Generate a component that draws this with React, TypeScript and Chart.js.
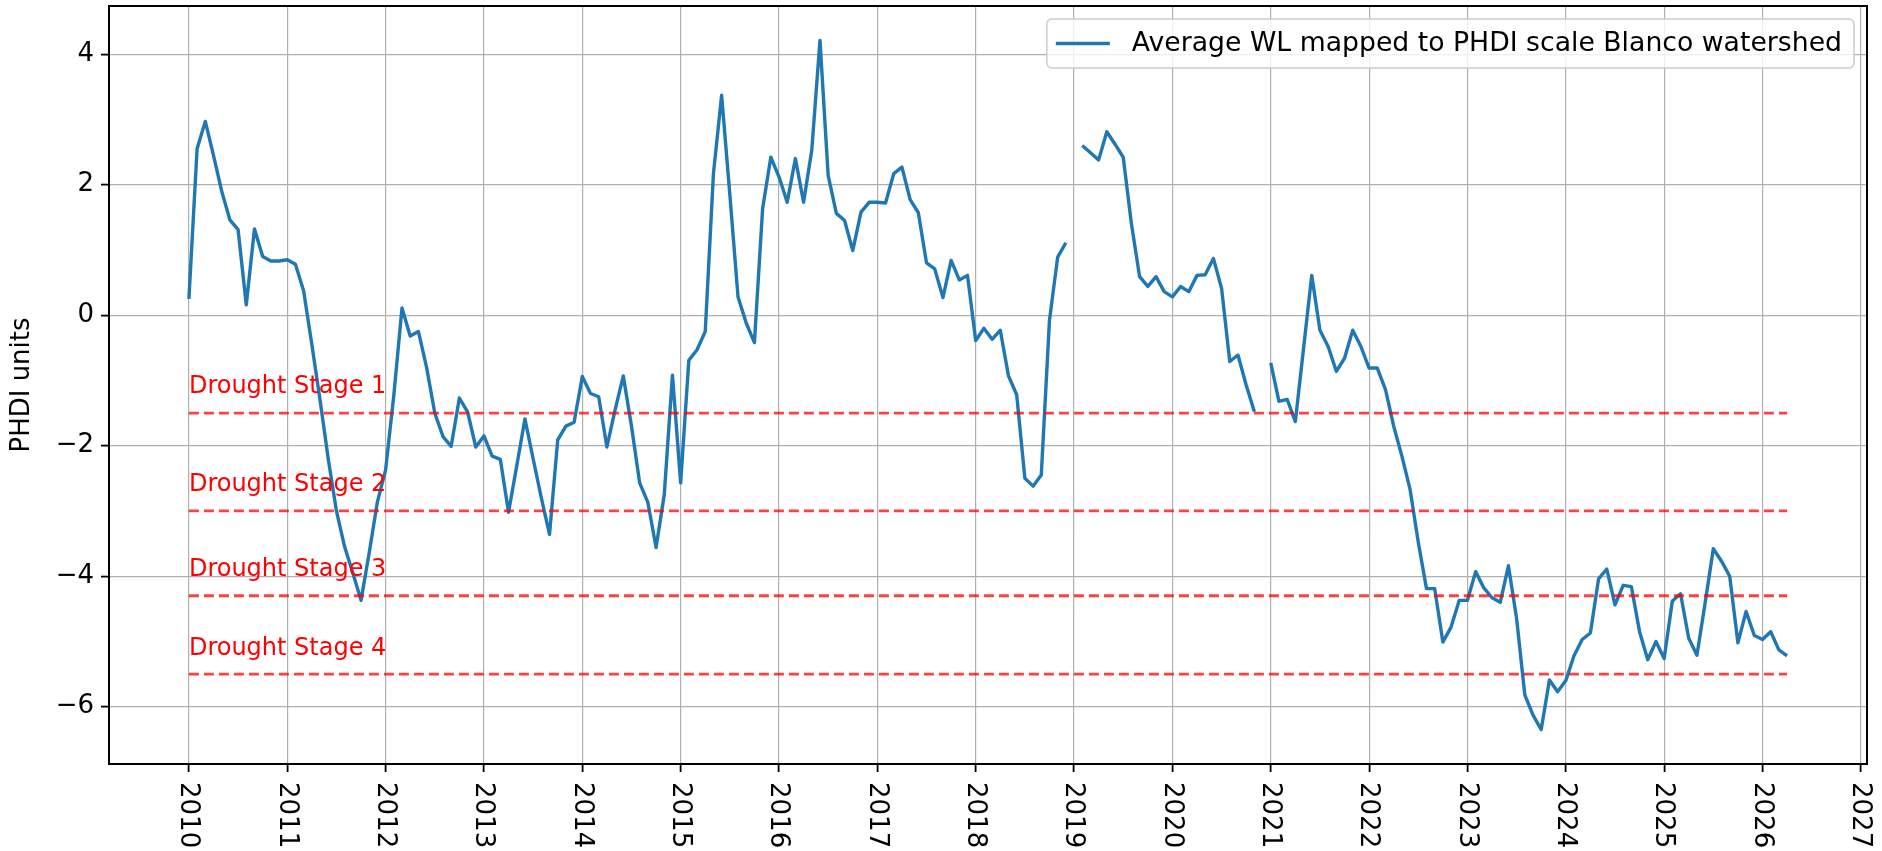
import React, { useEffect, useRef } from 'react';
import { Chart, registerables } from 'chart.js';

Chart.register(...registerables);

// ---- data (monthly values, January..December) ----
const START_YEAR = 2010;
const phdi2010 = [0.25, 2.55, 2.97, 2.45, 1.9, 1.46, 1.31, 0.16, 1.32, 0.9, 0.83, 0.83];
const phdi2011 = [0.85, 0.78, 0.37, -0.45, -1.3, -2.2, -3.0, -3.55, -3.95, -4.37, -3.64, -2.86];
const phdi2012 = [-2.37, -1.23, 0.11, -0.32, -0.25, -0.8, -1.5, -1.86, -2.01, -1.27, -1.48, -2.02];
const phdi2013 = [-1.85, -2.16, -2.21, -3.02, -2.31, -1.59, -2.2, -2.8, -3.36, -1.91, -1.7, -1.64];
const phdi2014 = [-0.94, -1.2, -1.25, -2.02, -1.45, -0.93, -1.7, -2.57, -2.87, -3.56, -2.75, -0.92];
const phdi2015 = [-2.57, -0.69, -0.53, -0.25, 2.17, 3.37, 1.85, 0.28, -0.12, -0.42, 1.63, 2.42];
const phdi2016 = [2.12, 1.73, 2.4, 1.73, 2.53, 4.21, 2.14, 1.56, 1.45, 0.99, 1.58, 1.73];
const phdi2017 = [1.73, 1.72, 2.17, 2.27, 1.77, 1.57, 0.8, 0.71, 0.27, 0.84, 0.54, 0.61];
const phdi2018 = [-0.39, -0.2, -0.37, -0.23, -0.93, -1.22, -2.5, -2.62, -2.45, -0.08, 0.89, 1.11];
const phdi2019 = [null, 2.6, 2.49, 2.38, 2.81, 2.62, 2.42, 1.4, 0.59, 0.44, 0.59, 0.36];
const phdi2020 = [0.28, 0.44, 0.36, 0.61, 0.62, 0.87, 0.41, -0.71, -0.61, -1.07, -1.48, null];
const phdi2021 = [-0.73, -1.32, -1.29, -1.63, -0.51, 0.61, -0.23, -0.48, -0.86, -0.66, -0.23, -0.48];
const phdi2022 = [-0.81, -0.81, -1.14, -1.7, -2.16, -2.67, -3.48, -4.19, -4.19, -5.01, -4.78, -4.37];
const phdi2023 = [-4.37, -3.93, -4.18, -4.33, -4.4, -3.84, -4.65, -5.82, -6.13, -6.35, -5.59, -5.77];
const phdi2024 = [-5.6, -5.22, -4.97, -4.87, -4.04, -3.89, -4.44, -4.14, -4.16, -4.85, -5.28, -5.0];
const phdi2025 = [-5.26, -4.38, -4.27, -4.95, -5.21, -4.41, -3.58, -3.77, -4.0, -5.02, -4.54, -4.91];
const phdi2026 = [-4.97, -4.85, -5.13, -5.22];

const yearlyValues: (number | null)[][] = [
  phdi2010, phdi2011, phdi2012, phdi2013, phdi2014, phdi2015, phdi2016, phdi2017, phdi2018,
  phdi2019, phdi2020, phdi2021, phdi2022, phdi2023, phdi2024, phdi2025, phdi2026,
];

const yearTicks = [2010, 2011, 2012, 2013, 2014, 2015, 2016, 2017, 2018, 2019, 2020, 2021, 2022, 2023, 2024, 2025, 2026, 2027];
const yTicks = [-6, -4, -2, 0, 2, 4];
const droughtLevels = [-1.5, -3, -4.3, -5.5];
const droughtLabels = ['Drought Stage 1', 'Drought Stage 2', 'Drought Stage 3', 'Drought Stage 4'];
const legendLabel = 'Average WL mapped to PHDI scale Blanco watershed';
const yAxisTitle = 'PHDI units';

const FONT = 'DejaVu Sans';
const LINE_BLUE = '#1f77b4';

function fmtTick(v: number): string {
  return v < 0 ? '\u2212' + Math.abs(v) : String(v);
}

export default function App() {
  const canvasRef = useRef<HTMLCanvasElement | null>(null);

  useEffect(() => {
    document.body.style.margin = '0';
    const canvas = canvasRef.current;
    if (!canvas) return;

    const points: { x: number; y: number | null }[] = [];
    yearlyValues.forEach((arr, i) => {
      arr.forEach((v, j) => points.push({ x: START_YEAR + i + j / 12, y: v }));
    });
    const xs = points.map((p) => p.x);
    const ys = points.filter((p) => p.y !== null).map((p) => p.y as number);
    const xMinD = Math.min(...xs), xMaxD = Math.max(...xs);
    const yMinD = Math.min(...ys), yMaxD = Math.max(...ys);
    const xPad = (xMaxD - xMinD) * 0.05;
    const yPad = (yMaxD - yMinD) * 0.05;

    const droughtSets = droughtLevels.map((lvl) => ({
      label: 'd' + lvl,
      data: [{ x: xMinD, y: lvl }, { x: xMaxD, y: lvl }],
      borderColor: 'rgba(255,0,0,0.75)',
      borderWidth: 2.8,
      borderDash: [10, 5],
      pointRadius: 0,
      fill: false,
      order: 0,
    }));

    const customPlugin = {
      id: 'customDecor',
      afterDraw(chart: any) {
        const { ctx, chartArea, scales } = chart;
        const xsc = scales.x, ysc = scales.y;
        ctx.save();
        // top & right spines
        ctx.strokeStyle = '#000';
        ctx.lineWidth = 2;
        ctx.beginPath();
        ctx.moveTo(chartArea.left - 1, chartArea.top);
        ctx.lineTo(chartArea.right, chartArea.top);
        ctx.lineTo(chartArea.right, chartArea.bottom + 1);
        ctx.stroke();

        // x tick labels rotated clockwise
        ctx.fillStyle = '#000';
        ctx.font = `26px "${FONT}"`;
        ctx.textAlign = 'left';
        ctx.textBaseline = 'middle';
        yearTicks.forEach((yr) => {
          const px = xsc.getPixelForValue(yr);
          ctx.save();
          ctx.translate(px, chartArea.bottom + 18);
          ctx.rotate(Math.PI / 2);
          ctx.fillText(String(yr), 0, 1);
          ctx.restore();
        });

        // y axis title
        ctx.save();
        ctx.translate(22, (chartArea.top + chartArea.bottom) / 2);
        ctx.rotate(-Math.PI / 2);
        ctx.textAlign = 'center';
        ctx.textBaseline = 'middle';
        ctx.fillText(yAxisTitle, 0, 0);
        ctx.restore();

        // drought labels
        ctx.fillStyle = 'red';
        ctx.font = `24px "${FONT}"`;
        ctx.textAlign = 'left';
        ctx.textBaseline = 'alphabetic';
        droughtLevels.forEach((lvl, i) => {
          ctx.fillText(droughtLabels[i], xsc.getPixelForValue(xMinD), ysc.getPixelForValue(lvl + 0.3));
        });

        // legend
        ctx.font = `26.7px "${FONT}"`;
        const tw = ctx.measureText(legendLabel).width;
        const pad = 9, handle = 54, gap = 22, padR = 12;
        const right = chartArea.right - 13;
        const top = chartArea.top + 13;
        const h = 49;
        const left = right - (pad + handle + gap + tw + padR);
        ctx.beginPath();
        ctx.roundRect(left, top, right - left, h, 5);
        ctx.fillStyle = 'rgba(255,255,255,0.8)';
        ctx.fill();
        ctx.strokeStyle = '#cccccc';
        ctx.lineWidth = 1.5;
        ctx.stroke();
        const cy = top + h / 2;
        ctx.strokeStyle = LINE_BLUE;
        ctx.lineWidth = 3.4;
        ctx.beginPath();
        ctx.moveTo(left + pad, cy);
        ctx.lineTo(left + pad + handle, cy);
        ctx.stroke();
        ctx.fillStyle = '#000';
        ctx.textBaseline = 'middle';
        ctx.fillText(legendLabel, left + pad + handle + gap, cy + 1);
        ctx.restore();
      },
    };

    const chart = new Chart(canvas, {
      type: 'line',
      data: {
        datasets: [
          ...droughtSets,
          {
            label: legendLabel,
            data: points,
            borderColor: LINE_BLUE,
            borderWidth: 3.4,
            borderJoinStyle: 'round',
            pointRadius: 0,
            spanGaps: false,
            tension: 0,
            fill: false,
            order: 1,
          },
        ] as any,
      },
      options: {
        responsive: false,
        animation: false,
        devicePixelRatio: 1,
        layout: { padding: { left: 0, right: 15, top: 6, bottom: 0 } },
        plugins: { legend: { display: false }, tooltip: { enabled: false } },
        scales: {
          x: {
            type: 'linear',
            min: xMinD - xPad,
            max: xMaxD + xPad,
            afterBuildTicks: (scale: any) => {
              scale.ticks = yearTicks.map((v) => ({ value: v }));
            },
            afterFit: (scale: any) => {
              scale.height = 87;
              scale.paddingLeft = 0;
              scale.paddingRight = 0;
              scale.paddingTop = 0;
              scale.paddingBottom = 0;
            },
            ticks: { display: false },
            grid: {
              color: '#b0b0b0',
              lineWidth: 1.2,
              tickColor: '#000',
              tickLength: 8,
              tickWidth: 1.8,
              drawTicks: true,
            },
            border: { display: true, color: '#000', width: 2 },
          },
          y: {
            type: 'linear',
            min: yMinD - yPad,
            max: yMaxD + yPad,
            afterBuildTicks: (scale: any) => {
              scale.ticks = yTicks.map((v) => ({ value: v }));
            },
            afterFit: (scale: any) => {
              scale.width = 109;
              scale.paddingLeft = 0;
              scale.paddingRight = 0;
              scale.paddingTop = 0;
              scale.paddingBottom = 0;
            },
            ticks: {
              color: '#000',
              font: { family: FONT, size: 26 },
              padding: 7,
              callback: (v: any) => fmtTick(Number(v)),
            },
            grid: {
              color: '#b0b0b0',
              lineWidth: 1.2,
              tickColor: '#000',
              tickLength: 8,
              tickWidth: 1.8,
              drawTicks: true,
            },
            border: { display: true, color: '#000', width: 2 },
          },
        },
      } as any,
      plugins: [customPlugin],
    });

    return () => chart.destroy();
  }, []);

  return (
    <canvas
      ref={canvasRef}
      width={1882}
      height={851}
      style={{ display: 'block', width: 1882, height: 851 }}
    />
  );
}
